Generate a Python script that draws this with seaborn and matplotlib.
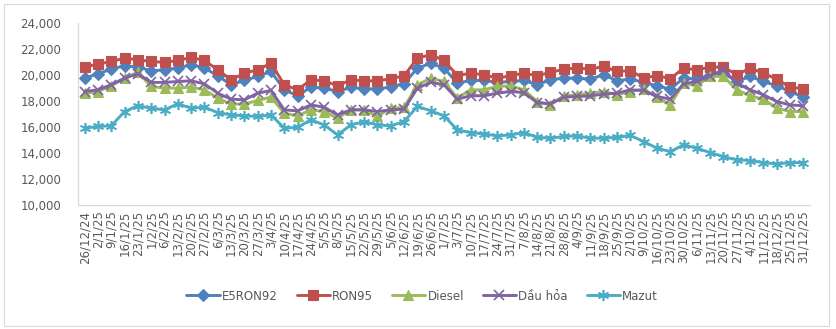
import numpy as np
import pandas as pd
import matplotlib
matplotlib.use("Agg")
import matplotlib.pyplot as plt
import seaborn as sns
from matplotlib.patches import Rectangle

dates = ["26/12/24", "2/1/25", "9/1/25", "16/1/25", "23/1/25", "1/2/25", "6/2/25", "13/2/25",
         "20/2/25", "27/2/25", "6/3/25", "13/3/25", "20/3/25", "27/3/25", "3/4/25", "10/4/25",
         "17/4/25", "24/4/25", "5/5/25", "8/5/25", "15/5/25", "22/5/25", "29/5/25", "5/6/25",
         "12/6/25", "19/6/25", "26/6/25", "1/7/25", "3/7/25", "10/7/25", "17/7/25", "24/7/25",
         "31/7/25", "7/8/25", "14/8/25", "21/8/25", "28/8/25", "4/9/25", "11/9/25", "18/9/25",
         "25/9/25", "2/10/25", "9/10/25", "16/10/25", "23/10/25", "30/10/25", "6/11/25",
         "13/11/25", "20/11/25", "27/11/25", "4/12/25", "11/12/25", "18/12/25", "25/12/25",
         "31/12/25"]

e5ron92 = [19760, 20090, 20450, 20710, 20610, 20320, 20400, 20530, 20790, 20530,
           19940, 19250, 19580, 19890, 20270, 18860, 18400, 19070, 18990, 18730,
           19040, 18940, 18940, 19070, 19320, 20530, 20890, 20530, 19370, 19580,
           19580, 19430, 19500, 19580, 19250, 19630, 19760, 19760, 19680, 20020,
           19550, 19700, 19430, 19170, 18910, 19760, 19680, 20020, 20140, 19500,
           19890, 19500, 19170, 18730, 18300]
ron95 = [20610, 20840, 21040, 21300, 21170, 21040, 20970, 21120, 21350, 21120,
         20400, 19630, 20140, 20400, 20910, 19250, 18860, 19630, 19550, 19170,
         19630, 19550, 19550, 19710, 19940, 21300, 21560, 21120, 19960, 20140,
         20020, 19760, 19940, 20140, 19940, 20200, 20450, 20530, 20450, 20660,
         20270, 20340, 19760, 19960, 19710, 20530, 20400, 20610, 20610, 20020,
         20530, 20140, 19680, 19070, 18940]
diesel = [18600, 18730, 19170, 19760, 20220, 19120, 18990, 18990, 19070, 18860,
          18220, 17760, 17760, 18040, 18300, 17060, 16860, 17320, 17190, 16680,
          17320, 17320, 16810, 17450, 17500, 19250, 19760, 19500, 18220, 18860,
          18860, 19120, 19170, 18860, 17960, 17700, 18400, 18480, 18600, 18730,
          18480, 18730, 18910, 18300, 17700, 19370, 19170, 19890, 19890, 18860,
          18400, 18140, 17450, 17190, 17190]
dau_hoa = [18730, 18860, 19250, 19760, 20090, 19430, 19430, 19500, 19550, 19320,
           18600, 18140, 18090, 18600, 18810, 17320, 17240, 17700, 17520, 16930,
           17320, 17320, 17190, 17320, 17370, 18990, 19430, 19250, 18140, 18400,
           18400, 18600, 18730, 18650, 17880, 17780, 18300, 18350, 18400, 18530,
           18600, 18860, 18810, 18350, 18140, 19320, 19500, 19940, 20400, 19370,
           18860, 18480, 17960, 17700, 17630]
mazut = [15910, 16040, 16090, 17190, 17630, 17450, 17320, 17780, 17450, 17520,
         17110, 16930, 16860, 16810, 16930, 15910, 15980, 16550, 16160, 15390,
         16160, 16420, 16160, 16090, 16420, 17580, 17250, 16860, 15780, 15570,
         15470, 15320, 15390, 15570, 15210, 15140, 15270, 15320, 15140, 15140,
         15210, 15350, 14880, 14370, 14110, 14620, 14370, 14030, 13720, 13470,
         13420, 13260, 13160, 13260, 13260]

series_names = ["E5RON92", "RON95", "Diesel", "Dầu hỏa", "Mazut"]
series_values = [e5ron92, ron95, diesel, dau_hoa, mazut]
y_ticks = [10000, 12000, 14000, 16000, 18000, 20000, 22000, 24000]

sns.set_theme(style="white")
plt.rcParams["font.family"] = ["DejaVu Sans"]

styles = {
    "E5RON92": dict(color="#4F81BD", marker="D", markersize=6.3, markeredgewidth=0.8),
    "RON95": dict(color="#C0504D", marker="s", markersize=6.5, markeredgewidth=0.8),
    "Diesel": dict(color="#9BBB59", marker="^", markersize=7, markeredgewidth=0.8),
    "Dầu hỏa": dict(color="#8064A2", marker="x", markersize=6.5, markeredgewidth=1.2),
    "Mazut": dict(color="#4BACC6", marker=(6, 2, 0), markersize=8, markeredgewidth=1.2),
}

idx = np.arange(len(dates))
df = pd.DataFrame({"x": np.tile(idx, len(series_names)),
                   "value": np.concatenate(series_values),
                   "series": np.repeat(series_names, len(dates))})

fig = plt.figure(figsize=(8.36, 3.29), dpi=100)
ax = fig.add_axes([78 / 836, 1 - 205 / 329, (810 - 78) / 836, (205 - 23) / 329])

for name in series_names:
    st = styles[name]
    sub = df[df["series"] == name]
    sns.lineplot(data=sub, x="x", y="value", ax=ax, color=st["color"], lw=2.1,
                 marker=st["marker"], markersize=st["markersize"],
                 markeredgecolor=st["color"], markerfacecolor=st["color"],
                 markeredgewidth=st["markeredgewidth"], label=name)

ax.set_xlim(-0.5, len(dates) - 0.5)
ax.set_ylim(10000, 24000)
ax.set_yticks(y_ticks)
ax.set_yticklabels([f"{v:,}" for v in y_ticks], fontsize=8.5, color="#595959")
ax.set_xticks(idx)
ax.set_xticklabels(dates, rotation=90, fontsize=8.5, color="#595959")
ax.tick_params(axis="y", length=0, pad=12)
ax.tick_params(axis="x", length=0, pad=4)
ax.set_xlabel("")
ax.set_ylabel("")
for s in ["top", "right"]:
    ax.spines[s].set_visible(False)
for s in ["left", "bottom"]:
    ax.spines[s].set_color("#D9D9D9")
    ax.spines[s].set_linewidth(0.9)

handles, labels = ax.get_legend_handles_labels()
ax.get_legend().remove()
fig.legend(handles, labels, loc="center", bbox_to_anchor=(0.505, 1 - 296 / 329), ncol=5,
           frameon=False, handlelength=2.8, handletextpad=0.2, columnspacing=1.6,
           fontsize=8.5, labelcolor="#595959")

fig.patches.append(Rectangle((4 / 836, 3 / 329), 825 / 836, 322 / 329, transform=fig.transFigure,
                             fill=False, edgecolor="#D9D9D9", lw=0.8))

fig.savefig("out.png", dpi=100)
